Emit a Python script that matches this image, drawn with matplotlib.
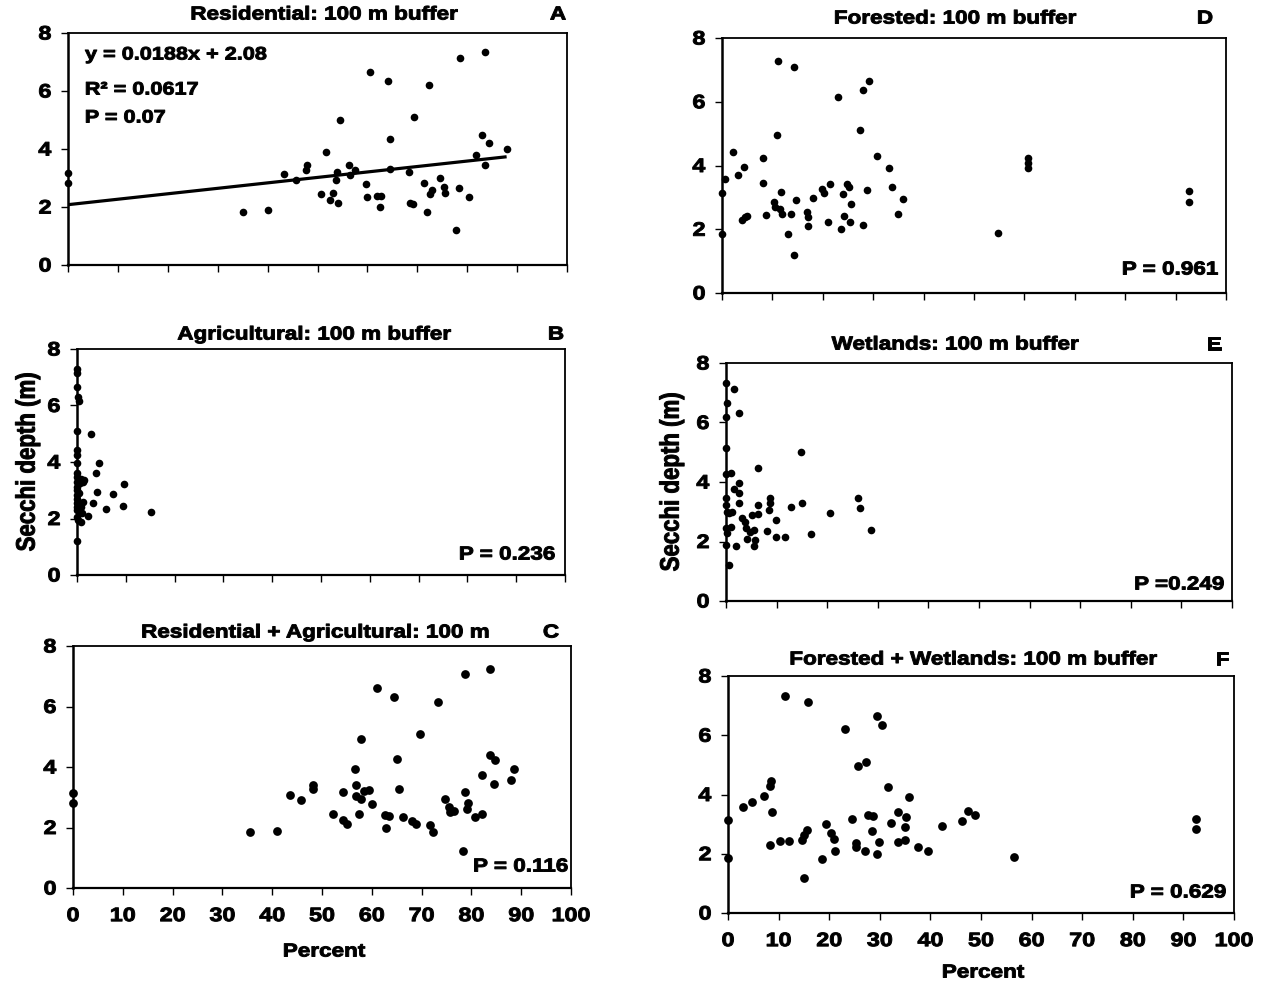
import matplotlib
matplotlib.use("Agg")
import matplotlib.pyplot as plt
from matplotlib.patheffects import AbstractPathEffect
from matplotlib.transforms import Affine2D
from matplotlib.text import Text

plt.rcParams["font.family"] = ["Liberation Sans", "DejaVu Sans"]
plt.rcParams["font.weight"] = "bold"

# ---- data: percent land cover within 100 m buffer vs Secchi depth (m) ----
res_x = [0, 0, 35.0, 40.0, 43.3, 45.6, 47.6, 47.8, 51.8, 50.8, 52.5, 53.1, 54.1, 53.9,
         53.8, 54.5, 56.4, 56.6, 57.6, 59.7, 59.9, 60.5, 62.0, 62.7, 62.5, 64.1, 64.5,
         64.5, 68.4, 68.5, 69.1, 69.3, 71.3, 72.0, 72.4, 72.5, 73.0, 74.5, 75.3, 75.6,
         77.7, 78.3, 78.5, 80.4, 81.8, 83.0, 83.5, 83.5, 84.4, 87.9]
res_y = [3.16, 2.84, 1.84, 1.90, 3.13, 2.93, 3.28, 3.45, 3.91, 2.45, 2.24, 2.47, 2.15, 3.19,
         2.93, 5.00, 3.45, 3.10, 3.28, 2.80, 2.36, 6.64, 2.38, 2.38, 2.00, 6.33, 4.34,
         3.30, 3.19, 2.15, 2.10, 5.12, 2.84, 1.84, 6.20, 2.45, 2.57, 2.99, 2.70, 2.50,
         1.21, 2.65, 7.13, 2.36, 3.80, 4.49, 7.33, 3.45, 4.22, 3.99]
res_slope = 0.0188
res_intercept = 2.08
res_stats = ["y = 0.0188x + 2.08", "R\u00b2 = 0.0617", "P = 0.07"]

agr_x = [0, 0, 0, 0.2, 0.5, 0, 0, 0, 0, 0, 0, 0, 0, 0, 0, 0, 0, 0, 0, 0, 0, 0.3,
         0.8, 1.2, 0.9, 0.8, 0.4, 1.2, 0.6, 1.5, 1.0,
         2.8, 4.5, 3.9, 4.2, 3.2, 2.2, 5.9, 7.3, 9.5, 9.7, 15.1]
agr_y = [7.28, 7.14, 6.67, 6.29, 6.17, 5.10, 4.42, 4.25, 3.95, 3.60, 3.48, 3.30, 3.13, 3.00,
         2.83, 2.70, 2.54, 2.40, 2.30, 2.06, 1.22, 1.95,
         3.39, 3.30, 2.42, 1.89, 2.90, 2.60, 3.25, 3.35, 2.20,
         4.99, 3.95, 3.60, 2.95, 2.54, 2.09, 2.35, 2.86, 2.44, 3.21, 2.24]

resagr_x = [0, 0, 35.5, 41.0, 43.5, 45.8, 48.1, 48.1, 52.3, 54.3, 54.3, 55.0, 56.7, 56.9,
            56.9, 57.4, 57.8, 57.9, 58.4, 59.5, 60.1, 61.1, 62.7, 62.8, 63.4, 64.5, 65.0,
            65.4, 66.3, 68.0, 68.8, 69.6, 71.6, 72.2, 73.3, 74.7, 75.5, 75.7, 76.5, 78.4,
            78.7, 78.7, 79.1, 79.3, 80.7, 82.1, 82.2, 83.8, 83.8, 84.7, 84.6, 88.0, 88.5]
resagr_y = [3.14, 2.81, 1.85, 1.87, 3.08, 2.90, 3.40, 3.26, 2.45, 3.16, 2.25, 2.12, 3.94, 3.40,
            3.05, 2.45, 4.94, 2.93, 3.20, 3.23, 2.78, 6.61, 2.40, 1.98, 2.37, 6.31, 4.25,
            3.26, 2.34, 2.23, 2.10, 5.10, 2.09, 1.85, 6.15, 2.95, 2.68, 2.50, 2.53, 1.21,
            3.17, 7.09, 2.62, 2.81, 2.35, 3.72, 2.45, 4.41, 7.25, 4.22, 3.43, 3.58, 3.92]

for_x = [0, 0.6, 0, 2.2, 3.2, 4.4, 4.0, 4.5, 5.0, 8.2, 8.2, 8.8, 10.4, 10.6, 11.0, 11.2,
         11.6, 11.8, 12.0, 13.0, 13.6, 14.2, 14.2, 14.6, 16.8, 17.1, 17.1, 18.1, 19.9,
         20.2, 21.1, 21.5, 23.1, 23.7, 24.1, 24.3, 24.9, 25.1, 25.3, 25.5, 27.3, 28.0,
         28.0, 28.8, 29.1, 30.7, 33.2, 33.7, 34.9, 35.9, 54.8, 60.8, 60.8, 60.8, 92.7, 92.7]
for_y = [3.15, 3.57, 1.85, 4.41, 3.71, 3.95, 2.29, 2.37, 2.42, 4.24, 3.44, 2.45, 2.84, 2.69,
         4.95, 7.27, 2.63, 3.16, 2.47, 1.86, 2.47, 7.09, 1.19, 2.92, 2.55, 2.38, 2.11,
         2.97, 3.25, 3.13, 2.24, 3.41, 6.15, 2.00, 3.10, 2.42, 3.41, 3.31, 2.24, 2.79,
         5.11, 6.36, 2.14, 3.23, 6.64, 4.31, 3.93, 3.32, 2.48, 2.94, 1.88, 4.25, 4.07,
         3.91, 3.21, 2.87]

wet_x = [0, 0.2, 0, 0, 0, 1.0, 0, 0, 0.2, 0, 0.2, 0, 0.6, 0.6, 1.2, 1.0, 1.6, 1.6, 2.6,
         2.6, 2.6, 2.6, 2.0, 3.2, 3.7, 4.0, 4.2, 4.8, 5.2, 5.6, 5.6, 5.8, 6.3, 6.3, 6.3,
         8.2, 8.5, 8.7, 8.7, 9.9, 9.9, 11.7, 12.9, 14.9, 15.1, 16.7, 20.5, 26.0, 26.4, 28.6]
wet_y = [7.33, 6.67, 6.18, 5.13, 4.27, 4.29, 3.45, 3.22, 3.00, 2.44, 2.27, 1.88, 1.20, 2.97,
         3.00, 2.49, 7.12, 3.75, 6.31, 3.98, 3.62, 3.30, 1.84, 2.78, 2.66, 2.44, 2.07,
         2.33, 2.89, 2.40, 1.84, 2.04, 4.46, 3.22, 2.91, 2.36, 3.06, 3.47, 3.30, 2.72,
         2.16, 2.16, 3.17, 5.00, 3.30, 2.25, 2.97, 3.47, 3.11, 2.40]

forwet_x = [0, 0, 3.0, 4.7, 7.1, 8.3, 8.5, 8.3, 8.7, 10.2, 11.3, 12.0, 14.6, 15.1, 15.6,
            15.0, 15.9, 18.6, 19.3, 20.3, 20.9, 21.1, 23.2, 24.6, 25.3, 25.3, 25.7, 27.0,
            27.2, 27.7, 28.6, 28.5, 29.5, 29.5, 29.8, 30.5, 31.7, 32.3, 33.5, 33.5, 34.9,
            34.9, 35.2, 35.7, 37.6, 39.5, 42.3, 46.3, 47.4, 48.8, 56.5, 92.5, 92.5]
forwet_y = [3.15, 1.85, 3.58, 3.74, 3.94, 4.29, 4.44, 2.31, 3.41, 2.42, 7.32, 2.42, 2.47,
            2.64, 2.81, 1.19, 7.13, 1.82, 3.01, 2.70, 2.50, 2.08, 6.20, 3.16, 2.37, 2.22,
            4.97, 2.08, 5.10, 3.30, 3.27, 2.76, 6.66, 1.99, 2.39, 6.34, 4.27, 3.04, 3.41,
            2.41, 2.47, 2.90, 3.24, 3.90, 2.24, 2.10, 2.94, 3.09, 3.44, 3.30, 1.88, 3.16, 2.84]

titles = ["Residential: 100 m buffer", "Agricultural: 100 m buffer",
          "Residential + Agricultural: 100 m", "Forested: 100 m buffer",
          "Wetlands: 100 m buffer", "Forested + Wetlands: 100 m buffer"]
letters = ["A", "B", "C", "D", "E", "F"]
p_labels = [None, "P = 0.236", "P = 0.116", "P = 0.961", "P =0.249", "P = 0.629"]
x_ticks = [0, 10, 20, 30, 40, 50, 60, 70, 80, 90, 100]
y_ticks = [0, 2, 4, 6, 8]
y_label = "Secchi depth (m)"
x_label = "Percent"

series = [(res_x, res_y), (agr_x, agr_y), (resagr_x, resagr_y),
          (for_x, for_y), (wet_x, wet_y), (forwet_x, forwet_y)]


class Widen(AbstractPathEffect):
    """Stretch glyph outlines horizontally about an anchor and thicken them."""

    def __init__(self, sx=1.2, anchor="center", lw=0.7):
        super().__init__()
        self.sx = sx
        self.anchor = anchor
        self.lw = lw

    def draw_path(self, renderer, gc, tpath, affine, rgbFace=None):
        ext = tpath.get_extents(affine)
        if self.anchor == "left":
            x0 = ext.x0
        elif self.anchor == "right":
            x0 = ext.x1
        else:
            x0 = 0.5 * (ext.x0 + ext.x1)
        tr = affine + Affine2D().translate(-x0, 0).scale(self.sx, 1).translate(x0, 0)
        gc0 = renderer.new_gc()
        gc0.copy_properties(gc)
        gc0.set_linewidth(self.lw)
        gc0.set_joinstyle("round")
        if rgbFace is not None:
            gc0.set_foreground(rgbFace)
        renderer.draw_path(gc0, tpath, tr, rgbFace)
        gc0.restore()


W, H = 1266, 986
fig = plt.figure(figsize=(W / 100, H / 100), dpi=100)
fig.patch.set_facecolor("white")


def fx(px):
    return px / W


def fy(py):
    return 1 - py / H


# layout in pixels: (left, right, top, bottom)
boxes = [(68, 567, 33, 265), (77, 565, 349, 575), (73, 571, 646, 888),
         (722, 1226, 38, 293), (726, 1232, 363, 601), (728, 1234, 676, 913)]
title_pos = [(324, 15), (314, 335), (315, 633), (955, 19), (955, 345), (973, 660)]
letter_pos = [(558, 15), (556, 335), (551, 633), (1205, 19), (1214, 345), (1222, 660)]
p_pos = [None, (555, 555), (568, 867), (1218, 270), (1224, 585), (1226, 893)]
bottom_row = [False, False, True, False, False, True]
marker_sz = [5.5, 5.5, 6.3, 5.5, 5.5, 6.3]

axes = []
for i, (l, r, t, b) in enumerate(boxes):
    ax = fig.add_axes([fx(l), fy(b), (r - l) / W, (b - t) / H])
    axes.append(ax)
    xs, ys = series[i]
    ax.plot(xs, ys, "o", color="black", ms=marker_sz[i], mew=0, clip_on=False, zorder=3)
    ax.set_xlim(0, 100)
    ax.set_ylim(0, 8)
    ax.set_xticks(x_ticks)
    ax.set_yticks(y_ticks)
    for s in ax.spines.values():
        s.set_linewidth(1.3)
        s.set_color("black")
    ax.spines["left"].set_linewidth(1.8)
    ax.spines["bottom"].set_linewidth(1.6)
    ax.tick_params(axis="both", direction="out", length=5, width=1.0,
                   labelsize=14, colors="black")
    ax.tick_params(axis="y", pad=7)
    ax.tick_params(axis="x", pad=9.5, labelbottom=bottom_row[i])
    fig.text(fx(title_pos[i][0]), fy(title_pos[i][1]), titles[i], ha="center",
             va="center", fontsize=13.5)
    fig.text(fx(letter_pos[i][0]), fy(letter_pos[i][1]), letters[i], ha="center",
             va="center", fontsize=13.5)
    if p_labels[i]:
        fig.text(fx(p_pos[i][0]), fy(p_pos[i][1]), p_labels[i], ha="right",
                 va="center", fontsize=13.5)

# fitted regression for residential cover
ax_a = axes[0]
x_end = max(res_x)
ax_a.plot([0, x_end], [res_intercept, res_intercept + res_slope * x_end],
          color="black", lw=2.3, solid_capstyle="butt", zorder=2)
for line, ypix in zip(res_stats, [55, 90, 118]):
    fig.text(fx(85), fy(ypix), line, ha="left", va="center", fontsize=13)

# axis titles
fig.text(fx(28), fy(462), y_label, rotation=90, ha="center", va="center", fontsize=16)
fig.text(fx(672), fy(482), y_label, rotation=90, ha="center", va="center", fontsize=16)
fig.text(fx(324), fy(952), x_label, ha="center", va="center", fontsize=13.5)
fig.text(fx(983), fy(973), x_label, ha="center", va="center", fontsize=13.5)

fig.canvas.draw()
for t in fig.findobj(Text):
    if t.get_text():
        ha = t.get_horizontalalignment()
        anchor = ha if ha in ("left", "right") else "center"
        t.set_path_effects([Widen(1.2, anchor)])

fig.savefig("out.png", dpi=100, facecolor="white")
